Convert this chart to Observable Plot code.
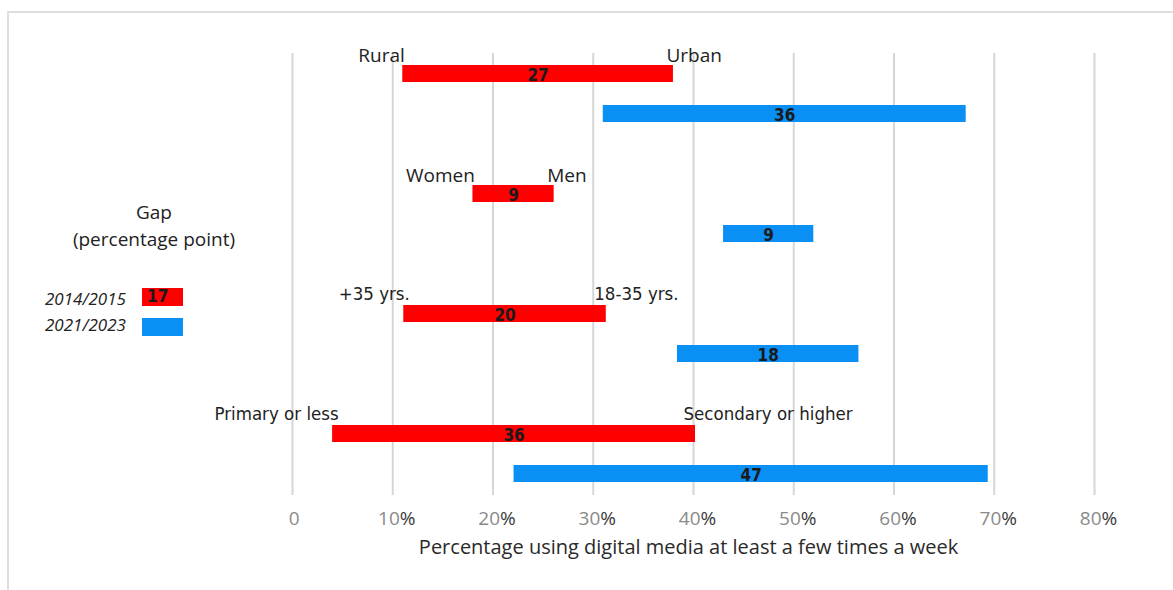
<!DOCTYPE html>
<html>
<head>
<meta charset="utf-8">
<script src="https://cdn.jsdelivr.net/npm/d3@7"></script>
<script src="https://cdn.jsdelivr.net/npm/@observablehq/plot@0.6"></script>
<style>
  html, body { margin: 0; padding: 0; background: #fff; }
  #wrap { position: relative; width: 1173px; height: 590px; overflow: hidden; font-family: "Open Sans", sans-serif; }
  #frame { position: absolute; left: 7px; top: 11px; width: 1200px; height: 700px; border-left: 2px solid #dedede; border-top: 2px solid #dedede; }
  #chart { position: absolute; left: 0; top: 0; }
  .narrow text, text.narrow { font-stretch: condensed; }
  .lg { position: absolute; color: #222; white-space: nowrap; }
  .gaptitle { left: 54px; width: 200px; text-align: center; font-size: 19px; line-height: 20px; height: 20px; }
  .period { left: 45px; font-style: italic; font-size: 17px; line-height: 20px; }
  .sw { position: absolute; left: 142px; width: 41px; height: 18px; }
  .sw span { position: absolute; left: 5px; top: -2px; font-family: "DejaVu Sans", sans-serif; font-stretch: condensed; font-weight: bold; font-size: 17px; color: #1a1a1a; }
</style>
</head>
<body>
<div id="wrap">
  <div id="frame"></div>
  <div id="chart"></div>
  <div class="lg gaptitle" id="gapTitle0" style="top:202px"></div>
  <div class="lg gaptitle" id="gapTitle1" style="top:229px"></div>
  <div class="lg period" id="p0" style="top:289px"></div>
  <div class="sw" id="s0" style="top:288px"><span id="s0t"></span></div>
  <div class="lg period" id="p1" style="top:315px"></div>
  <div class="sw" id="s1" style="top:318px"></div>
</div>
<script>
// ---- data ----
const categories = ["Rural/Urban", "Women/Men", "Age", "Education"];
const leftLabels = ["Rural", "Women", "+35 yrs.", "Primary or less"];
const rightLabels = ["Urban", "Men", "18-35 yrs.", "Secondary or higher"];
const periods = ["2014/2015", "2021/2023"];
const start2014 = [11, 18, 11.1, 4];
const end2014 = [38, 26.1, 31.3, 40.2];
const start2021 = [31, 43, 38.4, 22.1];
const end2021 = [67.2, 52, 56.5, 69.4];
const gap2014 = [27, 9, 20, 36];
const gap2021 = [36, 9, 18, 47];
const legendSample = 17;
const xTicks = [0, 10, 20, 30, 40, 50, 60, 70, 80];
const xTitle = "Percentage using digital media at least a few times a week";
const gapTitle = ["Gap", "(percentage point)"];

const colors = {"2014/2015": "#ff0000", "2021/2023": "#0a8ff5"};

// ---- build rows ----
const rows = [];
const yDomain = [];
categories.forEach((c, i) => {
  const s = [start2014[i], start2021[i]];
  const e = [end2014[i], end2021[i]];
  const g = [gap2014[i], gap2021[i]];
  periods.forEach((p, j) => {
    const key = c + " " + p;
    yDomain.push(key);
    rows.push({cat: c, idx: i, period: p, key, start: s[j], end: e[j], gap: g[j], first: j === 0});
  });
  if (i < categories.length - 1) yDomain.push("spacer" + i);
});
const labelRows = rows.filter(d => d.first).map(d => ({...d, left: leftLabels[d.idx], right: rightLabels[d.idx]}));

const normalFont = "Open Sans, sans-serif";
const narrowFont = "DejaVu Sans, sans-serif";

const chart = Plot.plot({
  width: 1173,
  height: 590,
  marginTop: 53,
  marginBottom: 95,
  marginLeft: 292,
  marginRight: 79,
  style: {background: "transparent", fontFamily: normalFont, overflow: "visible"},
  x: {domain: [0, 80], axis: null},
  y: {type: "band", domain: yDomain, range: [64.5, 481.5], paddingInner: 0.575, paddingOuter: 0, axis: null},
  marks: [
    Plot.ruleX(xTicks, {x: d => d, stroke: "#d6d6d6", strokeWidth: 2}),
    Plot.barX(rows, {x1: "start", x2: "end", y: "key", fill: d => colors[d.period]}),
    Plot.text(rows, {x: d => (d.start + d.end) / 2, y: "key", text: d => String(d.gap), className: "narrow",
      fontFamily: narrowFont, fontWeight: "bold", fontSize: 17, fill: "#1a1a1a", dy: 2}),
    // category labels: groups 0-1 in regular font, 2-3 in narrow font
    Plot.text(labelRows.filter(d => d.idx < 2), {x: "start", y: "key", text: "left", textAnchor: "end", dx: 2, dy: -18, fontSize: 19, fill: "#222"}),
    Plot.text(labelRows.filter(d => d.idx < 2), {x: "end", y: "key", text: "right", textAnchor: "start", dx: -7, dy: -18, fontSize: 19, fill: "#222"}),
    Plot.text(labelRows.filter(d => d.idx >= 2), {x: "start", y: "key", text: "left", textAnchor: "end", dx: 6, dy: -20, fontSize: 18.5, fontFamily: narrowFont, className: "narrow", fill: "#222"}),
    Plot.text(labelRows.filter(d => d.idx >= 2), {x: "end", y: "key", text: "right", textAnchor: "start", dx: -12, dy: -20, fontSize: 18.5, fontFamily: narrowFont, className: "narrow", fill: "#222"}),
    // tick labels
    Plot.text(xTicks, {x: d => d, frameAnchor: "bottom", text: d => String(d), textAnchor: "end", dx: 7, dy: 29, fontSize: 19, fill: "#8a8a8a"}),
    Plot.text(xTicks.filter(d => d > 0), {x: d => d, frameAnchor: "bottom", text: () => "%", textAnchor: "start", dx: 7, dy: 29, fontSize: 19, fill: "#3a3a3a"}),
    // axis title
    Plot.text([xTitle], {frameAnchor: "bottom", text: d => d, dx: -5, dy: 58, fontSize: 20, fill: "#2a2a2a"})
  ]
});
document.getElementById("chart").appendChild(chart);

// legend
document.getElementById("gapTitle0").textContent = gapTitle[0];
document.getElementById("gapTitle1").textContent = gapTitle[1];
document.getElementById("p0").textContent = periods[0];
document.getElementById("p1").textContent = periods[1];
document.getElementById("s0").style.background = colors[periods[0]];
document.getElementById("s1").style.background = colors[periods[1]];
document.getElementById("s0t").textContent = legendSample;
</script>
</body>
</html>
